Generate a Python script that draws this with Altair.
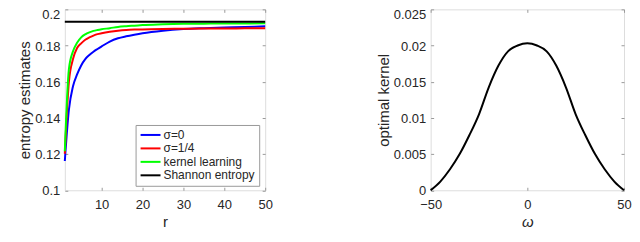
import altair as alt
import pandas as pd

# ---------------- data ----------------
r_vals = [1, 2, 3, 4, 5, 6, 7, 8, 9, 10, 12, 14, 16, 18, 20, 25, 30, 35, 40, 45, 50]
sigma0 = [0.1162, 0.1445, 0.1575, 0.1640, 0.1690, 0.1725, 0.1748, 0.1766, 0.1781, 0.1795,
          0.1822, 0.1840, 0.1851, 0.1860, 0.1868, 0.1882, 0.1891, 0.1896, 0.1900, 0.1903, 0.1906]
sigma14 = [0.1202, 0.1600, 0.1725, 0.1786, 0.1812, 0.1832, 0.1845, 0.1855, 0.1863, 0.1868,
           0.1876, 0.1882, 0.1886, 0.1888, 0.1889, 0.1892, 0.1893, 0.1894, 0.1894, 0.1895, 0.1895]
kernel_learning = [0.1216, 0.1670, 0.1768, 0.1815, 0.1845, 0.1862, 0.1873, 0.1881, 0.1886, 0.1890,
                   0.1896, 0.1903, 0.1907, 0.1910, 0.1913, 0.1917, 0.1920, 0.1921, 0.1922, 0.1922, 0.1923]
shannon_value = 0.1932
series_names = ["σ=0", "σ=1/4", "kernel learning", "Shannon entropy"]
series_colors = ["#0000ff", "#ff0000", "#00ff00", "#000000"]

omega_vals = [-50, -45, -40, -35, -30, -25, -20, -15, -10, -5, 0, 5, 10, 15, 20, 25, 30, 35, 40, 45, 50]
kernel_vals = [0.0, 0.0012, 0.0029, 0.0050, 0.0076, 0.0105, 0.0142, 0.0172, 0.0192, 0.0200, 0.0203,
               0.0200, 0.0192, 0.0172, 0.0142, 0.0105, 0.0076, 0.0050, 0.0029, 0.0012, 0.0]

x_ticks_left = [10, 20, 30, 40, 50]
y_ticks_left = [0.1, 0.12, 0.14, 0.16, 0.18, 0.2]
x_ticks_right = [-50, 0, 50]
y_ticks_right = [0, 0.005, 0.01, 0.015, 0.02, 0.025]

# ---------------- tables ----------------
rows = []
for name, vals in zip(series_names[:3], [sigma0, sigma14, kernel_learning]):
    for r, v in zip(r_vals, vals):
        rows.append({"r": r, "value": v, "series": name})
for r in [r_vals[0], r_vals[-1]]:
    rows.append({"r": r, "value": shannon_value, "series": series_names[3]})
left_df = pd.DataFrame(rows)
right_df = pd.DataFrame({"omega": omega_vals, "kernel": kernel_vals})

# ---------------- styling ----------------
FONT = "Liberation Sans"
TXT = "#262626"
FRAME = "#9a9a9a"
PLOT_H = 181.5


def lab_axis(title, values, fmt, **kw):
    return alt.Axis(title=title, values=values, format=fmt, ticks=False, tickSize=0,
                    domain=False, grid=False, labelFontSize=13, labelColor=TXT, labelFont=FONT,
                    labelFlush=False, labelOverlap=False,
                    titleFontSize=15, titleColor=TXT, titleFont=FONT, titleFontWeight="normal",
                    **kw)


def top_label_offset(top_value):
    # keep the topmost tick label inside the page
    return {"condition": {"test": f"datum.value >= {top_value * 0.999}", "value": 5.5},
            "value": 0.5}


def tick_axis(orient, values):
    return alt.Axis(orient=orient, values=values, labels=False, title=None, domain=False,
                    grid=False, ticks=True, tickSize=3, tickColor=FRAME, tickWidth=1, offset=-3)


# ---------------- left panel ----------------
xs_l = alt.Scale(domain=[1, 50], nice=False, zero=False)
ys_l = alt.Scale(domain=[0.1, 0.2], nice=False, zero=False)

left_main = alt.Chart(left_df).mark_line(strokeWidth=2, interpolate="monotone").encode(
    x=alt.X("r:Q", scale=xs_l,
            axis=lab_axis("r", x_ticks_left, "d", labelPadding=8, titlePadding=3)),
    y=alt.Y("value:Q", scale=ys_l,
            axis=lab_axis("entropy estimates", y_ticks_left, "~g", labelPadding=5,
                          titlePadding=2, labelOffset=top_label_offset(y_ticks_left[-1]))),
    color=alt.Color("series:N", sort=series_names,
                    scale=alt.Scale(domain=series_names, range=series_colors),
                    legend=alt.Legend(orient="none", legendX=71, legendY=116, title=None,
                                      symbolType="M-1,0H3", symbolSize=100, symbolStrokeWidth=2,
                                      symbolFillColor="transparent",
                                      labelFontSize=12, labelColor=TXT, labelFont=FONT,
                                      strokeColor=FRAME, fillColor="white", padding=4,
                                      rowPadding=1.5, labelOffset=12)),
)
left_tb = alt.Chart(left_df).mark_point(opacity=0).encode(
    x=alt.X("r:Q", scale=xs_l, axis=tick_axis("top", x_ticks_left)),
    y=alt.Y("value:Q", scale=ys_l, axis=tick_axis("right", y_ticks_left)),
)
left_bl = alt.Chart(left_df).mark_point(opacity=0).encode(
    x=alt.X("r:Q", scale=xs_l, axis=tick_axis("bottom", x_ticks_left)),
    y=alt.Y("value:Q", scale=ys_l, axis=tick_axis("left", y_ticks_left)),
)
left = alt.layer(left_main, left_tb, left_bl).resolve_axis(
    x="independent", y="independent").properties(width=201, height=PLOT_H)

# ---------------- right panel ----------------
xs_r = alt.Scale(domain=[-50, 50], nice=False, zero=False)
ys_r = alt.Scale(domain=[0, 0.025], nice=False, zero=False)

right_main = alt.Chart(right_df).mark_line(strokeWidth=2, color="#000000",
                                          interpolate="monotone").encode(
    x=alt.X("omega:Q", scale=xs_r,
            axis=lab_axis("ω", x_ticks_right, "d", labelPadding=8, titlePadding=3,
                          titleFontStyle="italic")),
    y=alt.Y("kernel:Q", scale=ys_r,
            axis=lab_axis("optimal kernel", y_ticks_right, "~g", labelPadding=5,
                          titlePadding=2, labelOffset=top_label_offset(y_ticks_right[-1]))),
)
right_tb = alt.Chart(right_df).mark_point(opacity=0).encode(
    x=alt.X("omega:Q", scale=xs_r, axis=tick_axis("top", x_ticks_right)),
    y=alt.Y("kernel:Q", scale=ys_r, axis=tick_axis("right", y_ticks_right)),
)
right_bl = alt.Chart(right_df).mark_point(opacity=0).encode(
    x=alt.X("omega:Q", scale=xs_r, axis=tick_axis("bottom", x_ticks_right)),
    y=alt.Y("kernel:Q", scale=ys_r, axis=tick_axis("left", y_ticks_right)),
)
right = alt.layer(right_main, right_tb, right_bl).resolve_axis(
    x="independent", y="independent").properties(width=194, height=PLOT_H)

chart = alt.hconcat(left, right, spacing=166, bounds="flush").resolve_legend(
    color="independent").properties(
    padding={"left": 9, "top": 0, "right": 0, "bottom": 0},
    background="white",
).configure_view(stroke=FRAME, strokeWidth=1).configure(font=FONT)

chart.save("out.html", embed_options={"renderer": "svg", "actions": False})
